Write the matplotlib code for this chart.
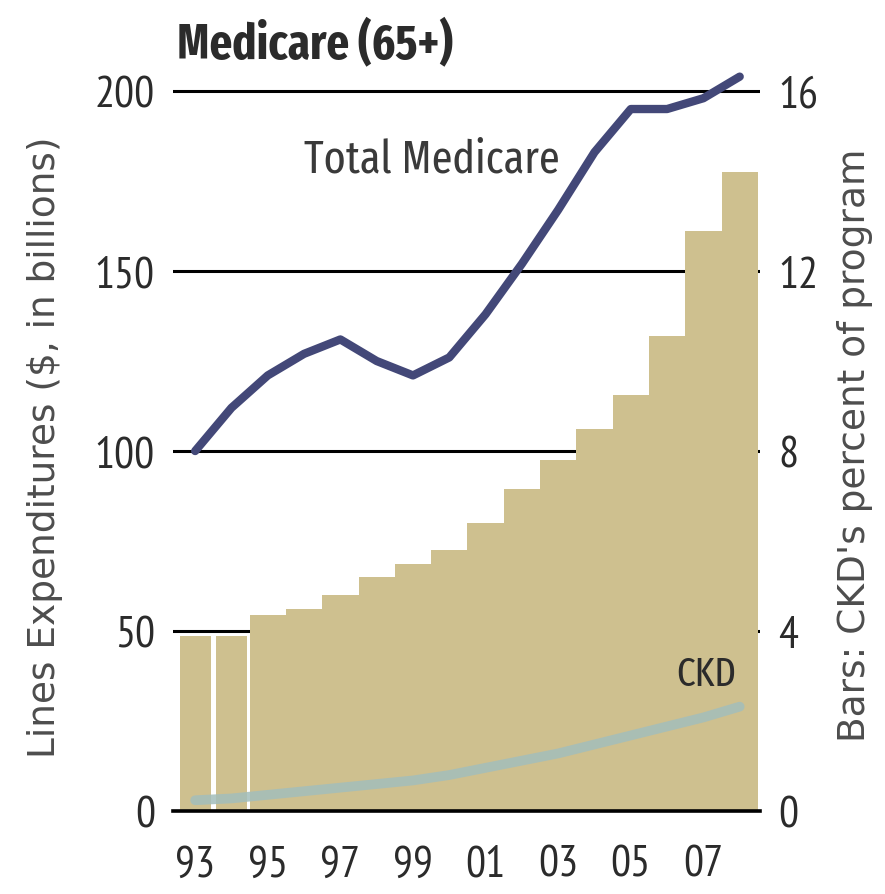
import matplotlib
matplotlib.use("Agg")
import matplotlib.pyplot as plt
import numpy as np

# data
years = np.arange(1993, 2009)
year_labels = ["93", "95", "97", "99", "01", "03", "05", "07"]
ckd_pct = [3.9, 3.9, 4.35, 4.5, 4.8, 5.2, 5.5, 5.8, 6.4, 7.15, 7.8, 8.5, 9.25, 10.55, 12.9, 14.2]
total_medicare = [100, 112, 121, 127, 131, 125, 121, 126, 138, 152, 167, 183, 195, 195, 198, 204]
ckd_spend = [3, 3.5, 4.5, 5.5, 6.5, 7.5, 8.5, 10, 12, 14, 16, 18.5, 21, 23.5, 26, 29]
left_ticks = [0, 50, 100, 150, 200]
right_ticks = [0, 4, 8, 12, 16]

BAR = "#cec08f"
NAVY = "#434878"
CKD_LINE = "#a3bebb"
INK = "#2b2b2b"
NARROW = ["PT Sans Narrow", "Fira Sans Extra Condensed", "DejaVu Sans"]
XCOND = ["Fira Sans Extra Condensed", "PT Sans Narrow", "DejaVu Sans"]
PLAIN = ["DejaVu Sans"]

plt.rcParams.update({"font.family": NARROW, "axes.linewidth": 0})

fig = plt.figure(figsize=(8.85, 8.95), dpi=100)
ax2 = fig.add_axes([0.1955, 0.0927, 0.6633, 0.8447])
ax = ax2.twinx()
ax.set_zorder(ax2.get_zorder() + 1)
ax.patch.set_visible(False)

# bars + grid on the percent axis
widths = np.where(years < 1995, 0.86, 1.0)
ax2.bar(years, ckd_pct, width=widths, color=BAR, edgecolor="none", zorder=2)
ax2.set_axisbelow(True)
ax2.grid(axis="y", color="black", linewidth=2.2, zorder=1)
ax2.grid(axis="x", visible=False)
ax2.set_ylim(0, 16.8)
ax2.set_yticks(right_ticks)
ax2.yaxis.tick_right()
ax2.set_xlim(1992.39, 2008.56)
ax2.set_xticks(years[::2])
ax2.set_xticklabels(year_labels)

# lines on the dollar axis
ax.plot(years, ckd_spend, color=CKD_LINE, lw=7, alpha=0.85, solid_capstyle="round", zorder=3)
ax.plot(years, total_medicare, color=NAVY, lw=6, solid_capstyle="round",
        solid_joinstyle="round", zorder=4, clip_on=False)
ax.set_ylim(0, 210)
ax.set_yticks(left_ticks)
ax.yaxis.tick_left()

for a in (ax, ax2):
    for s in a.spines.values():
        s.set_visible(False)
    a.tick_params(length=0, labelsize=32, colors=INK)
ax.tick_params(axis="y", pad=13)
ax2.tick_params(axis="y", pad=13)
ax2.tick_params(axis="x", pad=24)
ax.spines["bottom"].set_visible(True)
ax.spines["bottom"].set_linewidth(2.6)
ax.spines["bottom"].set_color("black")

fig.text(45 / 885, 1 - 447 / 895, "Lines Expenditures ($, in billions)", family=PLAIN,
         fontsize=27, color="#4d4d4d", rotation=90, ha="center", va="center")
fig.text(855 / 885, 1 - 445 / 895, "Bars: CKD's percent of program", family=PLAIN,
         fontsize=27, color="#4d4d4d", rotation=90, ha="center", va="center")

fig.text(0.488, 0.821, "Total Medicare", family=XCOND, fontsize=33,
         color="#3a3a3a", ha="center", va="center")
fig.text(0.798, 0.246, "CKD", family=XCOND, fontsize=29,
         color=INK, ha="center", va="center")
fig.text(0.2, 0.95, "Medicare (65+)", family=XCOND, fontsize=35, fontweight="bold",
         color=INK, ha="left", va="center")

fig.savefig("out.png", dpi=100, facecolor="white")
